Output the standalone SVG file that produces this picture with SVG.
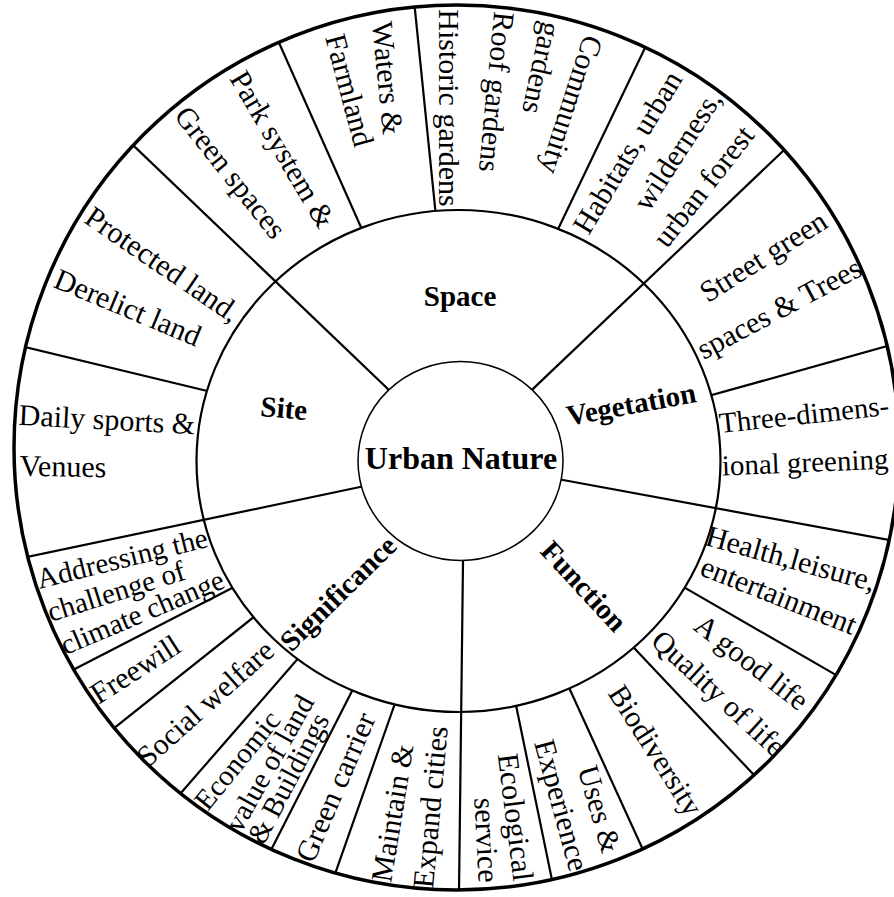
<svg xmlns="http://www.w3.org/2000/svg" width="894" height="897" viewBox="0 0 894 897">
<defs>
<style>
.ln{stroke:#000;stroke-width:2.2;fill:none;stroke-linecap:butt}
.t{font-family:"Liberation Serif","Times New Roman",serif;font-size:30px;fill:#000;text-anchor:middle;dominant-baseline:central}
.s{font-size:29px}
.b{font-weight:bold;font-size:29px}
.c{font-weight:bold;font-size:32px}
</style>
<clipPath id="outerClip"><circle cx="456.5" cy="447.5" r="442.5"/></clipPath>
</defs>
<rect width="894" height="897" fill="#fff"/>
<circle cx="456.5" cy="447.5" r="442.5" fill="#fff"/>
<g id="connectors">
<g id="outer-dividers" clip-path="url(#outerClip)" class="ln">
<line x1="368" y1="243" x2="272" y2="27"/>
<line x1="437" y1="226.7" x2="413" y2="-9.7"/>
<line x1="550.5" y1="244.7" x2="652.5" y2="32.3"/>
<line x1="694.8" y1="399.8" x2="901.2" y2="342.2"/>
<line x1="672.1" y1="580.4" x2="850.9" y2="683.6"/>
<line x1="624.2" y1="637.5" x2="765.8" y2="787.5"/>
<line x1="563.7" y1="676" x2="651.3" y2="868"/>
<line x1="513.5" y1="693" x2="555.5" y2="897"/>
<line x1="398.8" y1="692.5" x2="329.2" y2="890.5"/>
<line x1="358" y1="679.3" x2="262" y2="867.7"/>
<line x1="306.5" y1="648.8" x2="168.5" y2="807.2"/>
<line x1="263.7" y1="609.1" x2="99.3" y2="739.9"/>
<line x1="245.7" y1="580.9" x2="57.3" y2="678.1"/>
<line x1="220.8" y1="394.3" x2="7.2" y2="342.7"/>
</g>
<ellipse id="middle-ring" cx="458.5" cy="461" rx="262" ry="251" fill="#fff" stroke="#000" stroke-width="2.2"/>
<g id="sector-dividers" clip-path="url(#outerClip)" class="ln">
<line x1="413" y1="413" x2="84.4" y2="98.6"/>
<line x1="508" y1="412.6" x2="830.6" y2="105.8"/>
<line x1="530.4" y1="474" x2="954" y2="552"/>
<line x1="463.4" y1="529" x2="458.2" y2="958"/>
<line x1="393.3" y1="480" x2="-39.6" y2="571"/>
</g>
</g>
<circle cx="456.5" cy="447.5" r="442.5" fill="none" stroke="#000" stroke-width="3.5"/>
<g id="urban-nature">
<ellipse cx="460.5" cy="461" rx="102.5" ry="99.5" fill="#fff" stroke="#000" stroke-width="1.5"/>
<text class="t c" x="461" y="458">Urban Nature</text>
</g>
<g id="space">
<text class="t b" x="460" y="296">Space</text>
<text class="t" transform="translate(388,78) rotate(84.4)">Waters &amp;</text>
<text class="t" transform="translate(350,90) rotate(75)">Farmland</text>
<text class="t" transform="translate(283,149) rotate(59.3)">Park system &amp;</text>
<text class="t" transform="translate(231,172) rotate(51.5)">Green spaces</text>
<text class="t" transform="translate(449,108) rotate(90)">Historic gardens</text>
<text class="t" transform="translate(497,92) rotate(95.5)">Roof gardens</text>
<text class="t" transform="translate(572,105) rotate(108)">Community</text>
<text class="t" transform="translate(542,68) rotate(102)">gardens</text>
<text class="t" transform="translate(627,152) rotate(-59)">Habitats, urban</text>
<text class="t" transform="translate(677,150) rotate(-57)">wilderness,</text>
<text class="t" transform="translate(703,186) rotate(-52)">urban forest</text>
</g>
<g id="vegetation">
<text class="t b" transform="translate(631,404) rotate(-10.5)">Vegetation</text>
<text class="t" transform="translate(763,256) rotate(-32.2)">Street green</text>
<text class="t" transform="translate(779,308) rotate(-28.1)">spaces &amp; Trees</text>
<text class="t s" transform="translate(804,414) rotate(-6.1)">Three-dimens-</text>
<text class="t s" transform="translate(805,462) rotate(-2.4)">ional greening</text>
</g>
<g id="function">
<text class="t b" transform="translate(584,586) rotate(47.2)">Function</text>
<text class="t" transform="translate(791,558) rotate(15.5)">Health,leisure,</text>
<text class="t" transform="translate(779,595) rotate(21.6)">entertainment</text>
<text class="t" transform="translate(752,662) rotate(37.9)">A good life</text>
<text class="t" transform="translate(719,693) rotate(42.7)">Quality of life</text>
<text class="t" transform="translate(656,750) rotate(57.4)">Biodiversity</text>
<text class="t" transform="translate(600,809) rotate(73.9)">Uses &amp;</text>
<text class="t" transform="translate(562,805) rotate(74.7)">Experience</text>
<text class="t" transform="translate(516,817) rotate(82.9)">Ecological</text>
<text class="t" transform="translate(487,840) rotate(87)">service</text>
</g>
<g id="significance">
<text class="t b" transform="translate(338,593) rotate(-44.5)">Significance</text>
<text class="t" transform="translate(430,807) rotate(-84.8)">Expand cities</text>
<text class="t" transform="translate(392,813) rotate(-80.7)">Maintain &amp;</text>
<text class="t" transform="translate(335,787) rotate(-66.7)">Green carrier</text>
<text class="t s" transform="translate(288,778) rotate(-62.4)">&amp; Buildings</text>
<text class="t s" transform="translate(269,763) rotate(-60.7)">value of land</text>
<text class="t s" transform="translate(237,760) rotate(-51)">Economic</text>
<text class="t" transform="translate(205,703) rotate(-41.9)">Social welfare</text>
<text class="t" transform="translate(135,669) rotate(-32.7)">Freewill</text>
<text class="t s" transform="translate(142,612) rotate(-22.9)">climate change</text>
<text class="t s" transform="translate(116,591) rotate(-17.5)">challenge of</text>
<text class="t s" transform="translate(122,558) rotate(-13.9)">Addressing the</text>
</g>
<g id="site">
<text class="t b" transform="translate(284,408) rotate(5)">Site</text>
<text class="t" transform="translate(107,419) rotate(3)">Daily sports &amp;</text>
<text class="t" transform="translate(63,466) rotate(1)">Venues</text>
<text class="t" transform="translate(163,264) rotate(34.4)">Protected land,</text>
<text class="t" transform="translate(128,307) rotate(22.7)">Derelict land</text>
</g>
</svg>
